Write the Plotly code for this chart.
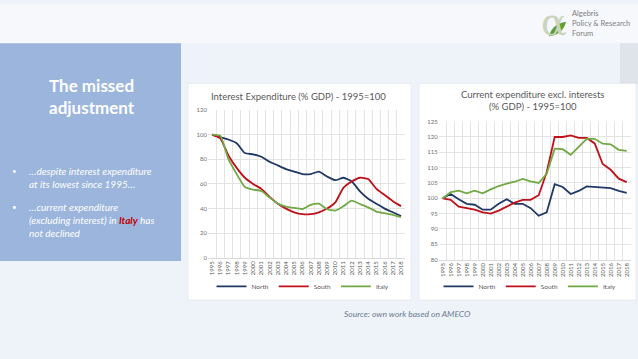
import plotly.graph_objects as go

W, H = 638, 359
def X(px): return px / W
def Y(py): return 1 - py / H

years = list(range(1995, 2019))
year_labels = [str(y) for y in years]

# Interest expenditure (% GDP), 1995=100
int_north = [100, 98, 96, 93, 85, 84, 82, 78, 75, 72, 70, 68, 68, 70, 66, 63, 65, 62, 54, 48, 44, 40, 37, 34]
int_south = [100, 97, 83, 73, 65, 60, 56, 49.5, 44, 40, 37, 35.5, 35.5, 37, 40, 45, 57, 62, 65, 64, 56, 51, 46, 42]
int_italy = [100, 99, 80, 68, 57.5, 55.4, 54.3, 49, 44, 41.6, 40.5, 39.7, 43, 44, 39.5, 38.4, 42, 46.4, 43.7, 41, 37.6, 36.3, 35, 33]

# Current expenditure excl. interests (% GDP), 1995=100
cur_north = [100, 101.4, 99.7, 98.2, 97.9, 96.3, 96.3, 98.2, 99.7, 98.2, 98.2, 96.8, 94.3, 95.4, 104.6, 103.7, 101.4, 102.4, 103.9, 103.7, 103.3, 103.3, 102.4, 101.8]
cur_south = [100, 99.5, 97.3, 96.8, 96.3, 95.4, 95.0, 96.0, 97.3, 98.6, 99.5, 99.5, 101.0, 108.5, 120.0, 120.0, 120.5, 119.7, 119.7, 117.9, 111.2, 109.3, 106.4, 105.3]
cur_italy = [100, 102.0, 102.5, 101.6, 102.5, 101.6, 102.9, 104.0, 104.8, 105.4, 106.3, 105.5, 105.0, 108.0, 116.2, 116.0, 114.2, 116.8, 119.4, 119.4, 117.8, 117.6, 115.8, 115.5]

series_names = ["North", "South", "Italy"]
colors = {"North": "#1f3864", "South": "#c0101a", "Italy": "#72a845"}

BG = "#eef2f9"
TXT = "#595959"
FONT = "Lato"

fig = go.Figure()

for name, vals in zip(series_names, [int_north, int_south, int_italy]):
    fig.add_trace(go.Scatter(x=years, y=vals, name=name, mode="lines",
                             line=dict(color=colors[name], width=1.8, shape="spline", smoothing=0.5),
                             xaxis="x", yaxis="y", legend="legend"))
for name, vals in zip(series_names, [cur_north, cur_south, cur_italy]):
    fig.add_trace(go.Scatter(x=years, y=vals, name=name, mode="lines",
                             line=dict(color=colors[name], width=1.8),
                             xaxis="x2", yaxis="y2", legend="legend2"))

grid = "#e3e3e3"
xcommon = dict(tickmode="array", tickvals=years, ticktext=year_labels, tickangle=-90,
               tickfont=dict(size=6, color=TXT, family=FONT), showgrid=False,
               range=[1994.5, 2018.5], showline=True, linecolor="#d9d9d9", ticks="",
               zeroline=False,
               minor=dict(tickmode="linear", tick0=1994.5, dtick=1, showgrid=True,
                          gridcolor=grid, gridwidth=1, ticks=""))
ycommon = dict(tickfont=dict(size=6, color="#6f6f6f", family=FONT), showgrid=True, gridcolor=grid,
               zeroline=False, showline=False, ticks="")

fig.update_layout(
    width=W, height=H, margin=dict(l=0, r=0, t=0, b=0),
    paper_bgcolor=BG, plot_bgcolor="rgba(0,0,0,0)",
    font=dict(family=FONT, color=TXT),
    xaxis=dict(domain=[X(207.9), X(405.2)], anchor="y", **xcommon),
    yaxis=dict(domain=[Y(259), Y(108)], range=[0, 120], tickvals=[0, 20, 40, 60, 80, 100, 120],
               anchor="x", **ycommon),
    xaxis2=dict(domain=[X(438.7), X(630.7)], anchor="y2", **xcommon),
    yaxis2=dict(domain=[Y(260.7), Y(120)], range=[80, 125], tickvals=list(range(80, 126, 5)),
                anchor="x2", **ycommon),
    legend=dict(orientation="h", x=X(303), y=Y(288), xanchor="center", yanchor="middle",
                font=dict(size=6.5, color=TXT, family=FONT), bgcolor="rgba(0,0,0,0)",
                itemwidth=30, tracegroupgap=0),
    legend2=dict(orientation="h", x=X(530), y=Y(288), xanchor="center", yanchor="middle",
                 font=dict(size=6.5, color=TXT, family=FONT), bgcolor="rgba(0,0,0,0)",
                 itemwidth=30, tracegroupgap=0),
    showlegend=True,
)

shapes = [
    # top light strip
    dict(type="rect", xref="paper", yref="paper", x0=0, x1=1, y0=Y(40), y1=1,
         fillcolor="#f6f8fc", line=dict(width=0), layer="below"),
    # blue side panel
    dict(type="rect", xref="paper", yref="paper", x0=0, x1=X(181), y0=Y(262), y1=Y(40),
         fillcolor="#9bb5dc", line=dict(width=0), layer="below"),
    # grey tab at right
    dict(type="rect", xref="paper", yref="paper", x0=X(620), x1=1, y0=Y(82), y1=Y(40),
         fillcolor="#dfe3ea", line=dict(width=0), layer="below"),
    # white chart boxes
    dict(type="rect", xref="paper", yref="paper", x0=X(188), x1=X(411), y0=Y(302), y1=Y(81),
         fillcolor="white", line=dict(width=0.6, color="#e0e4ea"), layer="below"),
    dict(type="rect", xref="paper", yref="paper", x0=X(419), x1=X(636), y0=Y(302), y1=Y(81),
         fillcolor="white", line=dict(width=0.6, color="#e0e4ea"), layer="below"),
    # logo leaf
    dict(type="path", xref="paper", yref="paper",
         path=f"M {X(549)},{Y(33)} Q {X(552)},{Y(20)} {X(566)},{Y(18)} Q {X(563)},{Y(31)} {X(549)},{Y(33)} Z",
         fillcolor="#5d9e34", line=dict(width=0)),
]
fig.update_layout(shapes=shapes)

ann = []
def add(text, x, y, size, color=TXT, xanchor="center", yanchor="middle", align="center", family=FONT):
    ann.append(dict(text=text, x=X(x), y=Y(y), xref="paper", yref="paper", showarrow=False,
                    xanchor=xanchor, yanchor=yanchor, align=align,
                    font=dict(size=size, color=color, family=family)))

# Logo
add("α", 554, 18, 38, color="#ccd4bd", family="DejaVu Serif")
add("Algebris<br>Policy &amp; Research<br>Forum", 570, 20, 7.5, color="#7f7f7f", xanchor="left", align="left")

# Left panel
add("<b>The missed<br>adjustment</b>", 92, 94, 17, color="white")
add("•", 14, 170, 8, color="white")
add("<i>…despite interest expenditure<br>at its lowest since 1995…</i>", 27, 176.5, 10, color="white",
    xanchor="left", align="left")
add("•", 14, 207, 8, color="white")
add("<i>…current expenditure<br>(excluding interest) in <b><span style='color:#c00000'>Italy</span></b> has<br>not declined</i>",
    27, 220.5, 10, color="white", xanchor="left", align="left")

# Chart titles
add("Interest Expenditure (% GDP) - 1995=100", 298, 94, 9.5)
add("Current expenditure excl. interests<br>(% GDP) - 1995=100", 532, 98.5, 9.5)

# Source
add("<i>Source: own work based on AMECO</i>", 407, 316, 8.5, color="#6b7a90")

fig.update_layout(annotations=ann)

fig.write_html("out.html", config={"displayModeBar": False},
               post_script="document.body.style.margin='0';document.body.style.padding='0';"
                           "document.body.style.overflow='hidden';")
